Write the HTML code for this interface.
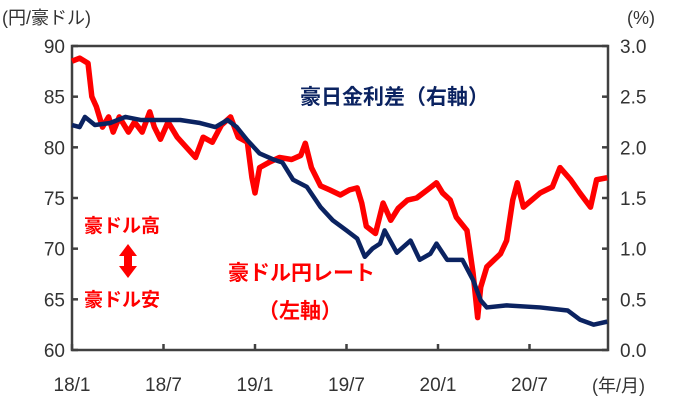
<!DOCTYPE html>
<html><head><meta charset="utf-8"><style>
body{margin:0;background:#fff;}
svg text{font-family:"Liberation Sans","Noto Sans CJK JP",sans-serif;}
</style></head><body>
<svg width="685" height="407" viewBox="0 0 685 407">
<g id="axes"></g>
<g id="series"></g>
<text x="2" y="24" font-size="18" fill="#333">(円/豪ドル)</text>
<text x="627" y="24" font-size="18" fill="#333">(%)</text>
<text x="592" y="392" font-size="18" fill="#333">(年/月)</text>
<text x="300" y="104" font-size="21" font-weight="bold" fill="#0b2361">豪日金利差（右軸）</text>
<text x="84" y="232" font-size="19" font-weight="bold" fill="#ff0000">豪ドル高</text>
<text x="84" y="306" font-size="19" font-weight="bold" fill="#ff0000">豪ドル安</text>
<g fill="#ff0000">
<polygon points="128,244 119,256 137,256"/><rect x="124" y="255" width="8" height="12"/><polygon points="128,278 119,266 137,266"/>
</g>
<text x="228" y="280" font-size="21" font-weight="bold" fill="#ff0000">豪ドル円レート</text>
<text x="258" y="318" font-size="21" font-weight="bold" fill="#ff0000">（左軸）</text>
</svg>
<script>
const leftTicks=[60,65,70,75,80,85,90];
const rightTicks=["0.0","0.5","1.0","1.5","2.0","2.5","3.0"];
const xTickLabels=["18/1","18/7","19/1","19/7","20/1","20/7"];
const xTickMonths=[0,6,12,18,24,30];
const rateMonths=[0,0.5,1.05,1.3,1.6,2.0,2.4,2.7,3.1,3.7,4.1,4.6,5.1,5.4,5.8,6.3,6.9,7.5,8.1,8.6,9.2,9.8,10.4,10.9,11.5,11.8,12,12.3,12.9,13.6,14.4,15,15.3,15.7,16.3,16.9,17.6,18.2,18.7,19,19.3,19.9,20.4,20.9,21.4,22,22.6,23.3,23.9,24.3,24.8,25.2,25.9,26.3,26.6,26.8,27.2,28.1,28.5,28.9,29.2,29.6,30.7,31.5,32,32.7,33.3,34,34.4,35.1];
const rateValues=[88.5,88.8,88.3,85,84,82,83,81.5,83,81.5,82.5,81.5,83.5,82,80.8,82.5,81,80,79,81,80.5,82.2,83,81,80.5,77,75.5,78,78.5,79,78.8,79.2,80.4,78,76.2,75.8,75.3,75.8,76,74.5,72.2,71.5,74.5,72.8,74,74.8,75,75.8,76.5,75.5,74.8,73.1,71.8,67.6,63.2,66.2,68.2,69.5,70.8,74.8,76.5,74.1,75.5,76.1,78,76.8,75.5,74.1,76.8,77];
const spreadMonths=[0,0.5,0.85,1.5,2.5,3.5,4.5,5.8,7.1,8.4,9.4,10.2,10.8,11.5,12.3,13.2,13.8,14.5,15.4,16.3,17.1,18,18.7,19.2,19.7,20.2,20.5,21.3,22.2,22.8,23.5,23.9,24.6,25.6,26.3,26.8,27.2,28.5,30.7,32.5,33.3,34.2,35.1];
const spreadValues=[2.22,2.2,2.3,2.22,2.24,2.3,2.27,2.27,2.27,2.24,2.2,2.27,2.2,2.07,1.94,1.88,1.85,1.68,1.61,1.41,1.28,1.18,1.1,0.92,1.0,1.05,1.18,0.96,1.08,0.89,0.95,1.05,0.89,0.89,0.69,0.49,0.42,0.44,0.42,0.39,0.30,0.25,0.28];
const L=72,R=608,T=46,B=350;
const xs=m=>L+m*15.25;
const yl=v=>B-(v-60)/30*(B-T);
const yr=v=>B-v/3*(B-T);
const NS="http://www.w3.org/2000/svg";
function mk(tag,attrs,parent){const e=document.createElementNS(NS,tag);for(const k in attrs)e.setAttribute(k,attrs[k]);parent.appendChild(e);return e;}
const ax=document.getElementById('axes');
const frame=mk('rect',{x:L,y:T,width:R-L,height:B-T,fill:'none',stroke:'#404040','stroke-width':2.5},ax);


leftTicks.forEach(v=>{const y=yl(v);
 const t=mk('text',{x:65,y:y+7,'font-size':19,fill:'#333','text-anchor':'end'},ax);t.textContent=v;
 
 
 mk('line',{x1:L,x2:L+6,y1:y,y2:y,stroke:'#404040','stroke-width':2.5},ax);});
rightTicks.forEach(v=>{const y=yr(+v);
 const t=mk('text',{x:620,y:y+7,'font-size':19,fill:'#333'},ax);t.textContent=v;
 
 
 mk('line',{x1:R-6,x2:R,y1:y,y2:y,stroke:'#404040','stroke-width':2.5},ax);});
xTickLabels.forEach((lab,i)=>{const x=xs(xTickMonths[i]);
 const t=mk('text',{x:x,y:391,'font-size':19,fill:'#333','text-anchor':'middle'},ax);t.textContent=lab;
 
 
 mk('line',{x1:x,x2:x,y1:B-6,y2:B,stroke:'#404040','stroke-width':2.5},ax);});
const sg=document.getElementById('series');
const rp=mk('polyline',{points:rateMonths.map((m,i)=>xs(m)+','+yl(rateValues[i])).join(' '),fill:'none',stroke:'#ff0000','stroke-width':5.5,'stroke-linejoin':'round'},sg);


const sp=mk('polyline',{points:spreadMonths.map((m,i)=>xs(m)+','+yr(spreadValues[i])).join(' '),fill:'none',stroke:'#0b2361','stroke-width':4.5,'stroke-linejoin':'round'},sg);


</script>
</body></html>
